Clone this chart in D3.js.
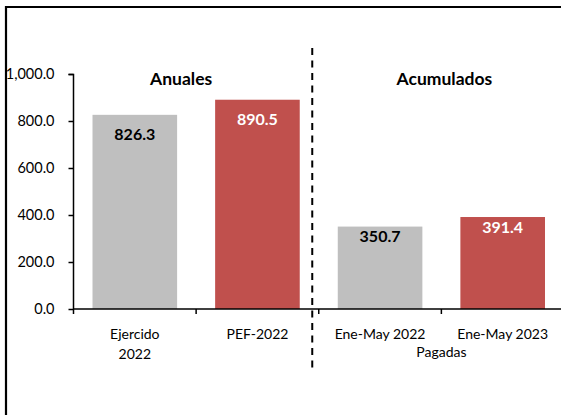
<!DOCTYPE html>
<html><head><meta charset="utf-8">
<script src="https://cdn.jsdelivr.net/npm/d3@7"></script>
<style>body{margin:0;background:#fff;} svg{display:block;font-family:Lato, "Open Sans", sans-serif;}</style>
</head><body>
<svg id="c" width="561" height="415"></svg>
<script>
const categories = ["Ejercido\n2022", "PEF-2022", "Ene-May 2022", "Ene-May 2023"];
const values = [826.3, 890.5, 350.7, 391.4];
const barColors = ["#BFBFBF", "#C0504D", "#BFBFBF", "#C0504D"];
const labelColors = ["#000000", "#FFFFFF", "#000000", "#FFFFFF"];
const yTicks = [0, 200, 400, 600, 800, 1000];
const groupTitles = ["Anuales", "Acumulados"];
const subTitle = "Pagadas";

const svg = d3.select("#c");
// outer frame
svg.append("path").attr("d", "M6,416 V7 H562").attr("fill", "none").attr("stroke", "#000").attr("stroke-width", 2.2);

const x = d3.scaleBand().domain(categories).range([73.5, 564]).paddingInner(0.31).paddingOuter(0.155);
const y = d3.scaleLinear().domain([0, 1000]).range([309, 74]);

// bars
svg.selectAll("rect.bar").data(values).enter().append("rect")
  .attr("x", (d, i) => x(categories[i])).attr("width", x.bandwidth())
  .attr("y", d => y(d)).attr("height", d => y(0) - y(d))
  .attr("fill", (d, i) => barColors[i]);

// value labels
svg.selectAll("text.val").data(values).enter().append("text")
  .attr("x", (d, i) => x(categories[i]) + x.bandwidth() / 2)
  .attr("y", (d, i) => y(d) + (i < 2 ? 25.5 : 15.5))
  .attr("text-anchor", "middle").attr("font-weight", "bold").attr("font-size", 16)
  .attr("fill", (d, i) => labelColors[i])
  .text(d => d3.format(".1f")(d));

// y axis
const yAxis = d3.axisLeft(y).tickValues(yTicks).tickFormat(d3.format(",.1f")).tickSize(5).tickPadding(14);
const gy = svg.append("g").attr("transform", "translate(73.5,0)").call(yAxis);
gy.select(".domain").attr("stroke", "#000").attr("stroke-width", 1.5).attr("d", "M-5,74.5H0V309");
gy.selectAll(".tick line").attr("stroke", "#000").attr("stroke-width", 1.5);
gy.selectAll(".tick text").attr("font-size", 14.5).attr("fill", "#000").attr("font-family", "Lato, sans-serif");

// x axis
const band = x.step();
const xb = d3.scaleLinear().domain([0, 4]).range([73.5, 73.5 + 4 * band]);
const gx = svg.append("g").attr("transform", "translate(0,309)");
gx.append("line").attr("x1", 73.5).attr("x2", 564).attr("stroke", "#000").attr("stroke-width", 1.5);
gx.selectAll("line.tk").data(d3.range(0, 4)).enter().append("line")
  .attr("x1", d => xb(d)).attr("x2", d => xb(d)).attr("y1", 0).attr("y2", 5)
  .attr("stroke", "#000").attr("stroke-width", 1.5);
categories.forEach((c, i) => {
  const t = gx.append("text").attr("text-anchor", "middle").attr("font-size", 14)
    .attr("x", x(c) + x.bandwidth() / 2).attr("y", 29.5);
  c.split("\n").forEach((ln, j) => t.append("tspan").attr("x", x(c) + x.bandwidth() / 2).attr("dy", j ? 20.5 : 0).text(ln));
});
gx.append("text").attr("text-anchor", "middle").attr("font-size", 14)
  .attr("x", (x(categories[2]) + x(categories[3]) + x.bandwidth()) / 2).attr("y", 47.5).text(subTitle);

// divider
const divX = (x(categories[1]) + x.bandwidth() + x(categories[2])) / 2 - 6.5;
svg.append("line").attr("x1", divX).attr("x2", divX).attr("y1", 48).attr("y2", 373)
  .attr("stroke", "#000").attr("stroke-width", 2).attr("stroke-dasharray", "7,5.5");

// group titles
svg.append("text").attr("x", (x(categories[0]) + x(categories[1]) + x.bandwidth()) / 2 - 15).attr("y", 85)
  .attr("text-anchor", "middle").attr("font-weight", "bold").attr("font-size", 17.5).text(groupTitles[0]);
svg.append("text").attr("x", (x(categories[2]) + x(categories[3]) + x.bandwidth()) / 2 + 3).attr("y", 85)
  .attr("text-anchor", "middle").attr("font-weight", "bold").attr("font-size", 17.5).text(groupTitles[1]);
</script>
</body></html>
